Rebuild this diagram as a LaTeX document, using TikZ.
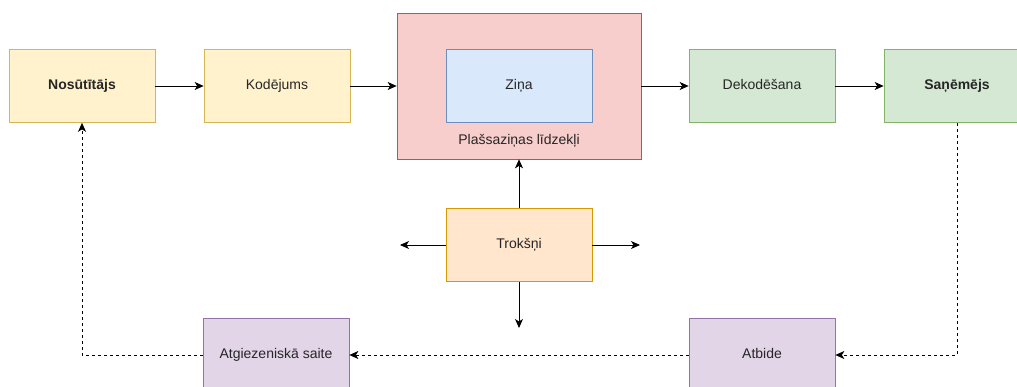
\documentclass[tikz,border=0pt]{standalone}
\usepackage{fontspec}
\setmainfont{Liberation Sans}
\usepackage{tikz}
\usetikzlibrary{arrows.meta}

\definecolor{yelfill}{HTML}{FFF2CC}
\definecolor{yeldraw}{HTML}{D6B656}
\definecolor{redfill}{HTML}{F8CECC}
\definecolor{reddraw}{HTML}{B85450}
\definecolor{blufill}{HTML}{DAE8FC}
\definecolor{bludraw}{HTML}{6C8EBF}
\definecolor{grnfill}{HTML}{D5E8D4}
\definecolor{grndraw}{HTML}{82B366}
\definecolor{purfill}{HTML}{E1D5E7}
\definecolor{purdraw}{HTML}{9673A6}
\definecolor{orafill}{HTML}{FFE6CC}
\definecolor{oradraw}{HTML}{D79B00}
\definecolor{txt}{HTML}{262626}

\tikzset{
  blk/.style={draw, line width=0.7pt, minimum width=146pt, minimum height=73pt,
    inner sep=0pt, text height=10pt, text depth=3pt,
    font=\fontsize{14}{16}\selectfont, text=txt},
  conn/.style={-{Stealth[length=9pt, width=8pt, inset=2.5pt]}, line width=0.9pt},
  fb/.style={conn, dash pattern=on 3pt off 3pt}
}

\begin{document}
\begin{tikzpicture}[x=1pt, y=-1pt]
\useasboundingbox (0,0) rectangle (1017,387);
\fill[white] (0,0) rectangle (1017,387);
% upper row
\node [blk, fill=yelfill, draw=yeldraw, font=\fontsize{14}{16}\selectfont\bfseries] (nos) at (82,86) {Nosūtītājs};
\node [blk, fill=yelfill, draw=yeldraw] (kod) at (277,86) {Kodējums};
\node [blk, fill=redfill, draw=reddraw, minimum width=244pt, minimum height=146pt] (media) at (519,86) {};
\node [blk, fill=blufill, draw=bludraw, minimum height=73pt] (zina) at (519,86) {Ziņa};
\node [text=txt, font=\fontsize{14}{16}\selectfont] (medlbl) at (519,141) {Plašsaziņas līdzekļi};
\node [blk, fill=grnfill, draw=grndraw] (dek) at (762,86) {Dekodēšana};
\node [blk, fill=grnfill, draw=grndraw, font=\fontsize{14}{16}\selectfont\bfseries] (san) at (957,86) {Saņēmējs};
% noise
\node [blk, fill=orafill, draw=oradraw] (trok) at (519,245) {Trokšņi};
\coordinate (nl) at (400,245);
\coordinate (nr) at (640,245);
\coordinate (nd) at (519,328);
% lower row
\node [blk, fill=purfill, draw=purdraw] (atg) at (276,355) {Atgiezeniskā saite};
\node [blk, fill=purfill, draw=purdraw] (atb) at (762,355) {Atbide};

\draw [conn] (nos) -- (kod);
\draw [conn] (kod) -- (media);
\draw [conn] (media) -- (dek);
\draw [conn] (dek) -- (san);
\draw [conn] (trok) -- (media);
\draw [conn] (trok) -- (nl);
\draw [conn] (trok) -- (nr);
\draw [conn] (trok) -- (nd);
\draw [fb] (san.south) |- (atb.east);
\draw [fb] (atb) -- (atg);
\draw [fb] (atg.west) -| (nos.south);
\end{tikzpicture}
\end{document}
